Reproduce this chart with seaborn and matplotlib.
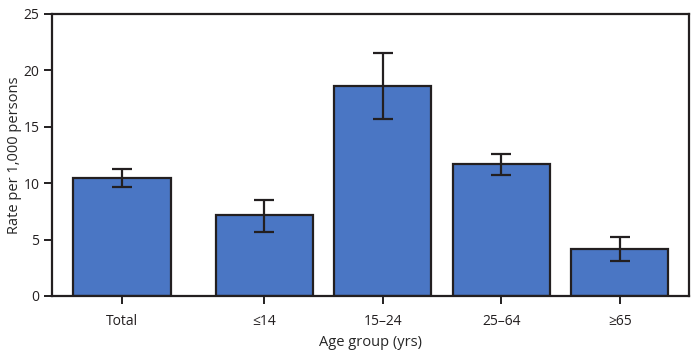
import matplotlib
matplotlib.use("Agg")
import matplotlib.pyplot as plt
import seaborn as sns
import pandas as pd

categories = ["Total", "≤14", "15–24", "25–64", "≥65"]
positions = [0.0, 1.2, 2.2, 3.2, 4.2]
rates = [10.5, 7.15, 18.65, 11.7, 4.2]
ci_low = [9.7, 5.7, 15.7, 10.75, 3.13]
ci_high = [11.3, 8.5, 21.55, 12.6, 5.23]
yticks = [0, 5, 10, 15, 20, 25]

sns.set_style("white")
plt.rcParams["font.family"] = ["Open Sans", "DejaVu Sans"]

df = pd.DataFrame({"pos": positions, "rate": rates, "cat": categories})

fig = plt.figure(figsize=(7, 3.57), dpi=100)
ax = fig.add_axes([0.0743, 0.1709, 0.9100, 0.7899])

sns.barplot(data=df, x="pos", y="rate", native_scale=True, width=0.82,
            color="#4a76c4", saturation=1, edgecolor="#231f20", linewidth=1.6,
            errorbar=None, ax=ax)

yerr = [[r - l for r, l in zip(rates, ci_low)], [h - r for r, h in zip(rates, ci_high)]]
ax.errorbar(positions, rates, yerr=yerr, fmt="none", ecolor="#231f20",
            elinewidth=1.6, capsize=7, capthick=1.6)

ax.set_xlim(-0.59, 4.785)
ax.set_ylim(0, 25)
ax.set_yticks(yticks)
ax.set_xticks(positions)
ax.set_xticklabels(categories)
ax.set_xlabel("Age group (yrs)", fontsize=10.5, labelpad=4)
ax.set_ylabel("Rate per 1,000 persons", fontsize=10.5, labelpad=1)

for s in ax.spines.values():
    s.set_visible(True)
    s.set_color("#231f20")
    s.set_linewidth(1.6)

ax.tick_params(axis="both", which="both", direction="out", length=6, width=1.4,
               color="#231f20", labelsize=10, labelcolor="#231f20",
               left=True, bottom=True, pad=3)
ax.tick_params(axis="x", pad=7)

fig.savefig("out.png", dpi=100)
